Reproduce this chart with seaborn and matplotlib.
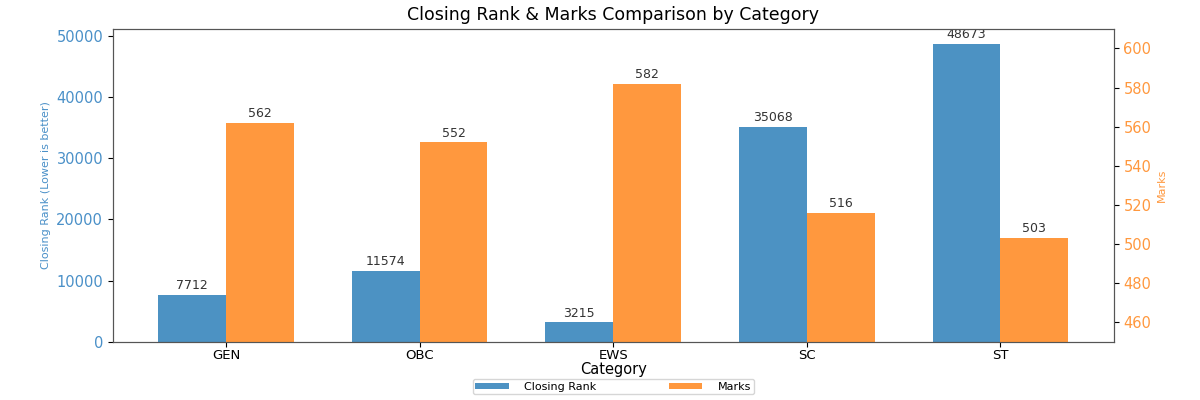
import pandas as pd
import matplotlib
matplotlib.use("Agg")
import matplotlib.pyplot as plt
import seaborn as sns

plt.rcParams['font.family'] = ['DejaVu Sans']

# ------------------- Data -------------------
categories = ["GEN", "OBC", "EWS", "SC", "ST"]
closing_rank = [7712, 11574, 3215, 35068, 48673]
marks = [562, 552, 582, 516, 503]

df_rank = pd.DataFrame({"Category": categories, "Value": closing_rank, "Metric": "Closing Rank"})
df_marks = pd.DataFrame({"Category": categories, "Value": marks, "Metric": "Marks"})

hue_order = ["Closing Rank", "Marks"]
palette = {"Closing Rank": "#1f77b4", "Marks": "#ff7f0e"}

# ------------------- Plot -------------------
fig, ax1 = plt.subplots(figsize=(12, 4), dpi=100)
ax2 = ax1.twinx()

sns.barplot(data=df_rank, x="Category", y="Value", hue="Metric", hue_order=hue_order,
            palette=palette, alpha=0.8, saturation=1, width=0.7, dodge=True, ax=ax1,
            order=categories)
sns.barplot(data=df_marks, x="Category", y="Value", hue="Metric", hue_order=hue_order,
            palette=palette, alpha=0.8, saturation=1, width=0.7, dodge=True, ax=ax2,
            order=categories)

for c in ax1.containers:
    ax1.bar_label(c, padding=2, fontsize=9, color="#333333")
for c in ax2.containers:
    ax2.bar_label(c, padding=2, fontsize=9, color="#333333")

ax1.set_xlim(-0.585, 4.585)
ax1.set_ylim(0, max(closing_rank) * 1.05)
ax2.set_ylim(450, 610)

ax1.set_xlabel("Category", fontsize=10.5, labelpad=0)
ax2.set_xlabel("")
ax1.set_ylabel("Closing Rank (Lower is better)", color="#4a90c8", fontsize=8)
ax2.set_ylabel("Marks", color="#ff983e", fontsize=8)
ax1.tick_params(axis="y", labelcolor="#4a90c8", labelsize=10.5)
ax2.tick_params(axis="y", labelcolor="#ff983e", labelsize=10.5)
ax1.tick_params(axis="x", labelsize=9.5, pad=1.5)
ax1.set_title("Closing Rank & Marks Comparison by Category", fontsize=12.5)

for ax in (ax1, ax2):
    for s in ax.spines.values():
        s.set_color("#555555")

h1, l1 = ax1.get_legend_handles_labels()
h2, l2 = ax2.get_legend_handles_labels()
ax1.get_legend().remove()
ax2.get_legend().remove()
ax1.legend([h1[0], h2[-1]], ["Closing Rank", "Marks"], loc="upper center",
           bbox_to_anchor=(0.5, -0.1), ncol=2, fontsize=8, handlelength=3,
           handleheight=0.5, handletextpad=1.4, columnspacing=6.5, borderpad=0.25)

plt.subplots_adjust(left=0.094, right=0.928, top=0.928, bottom=0.145)
plt.savefig("out.png")
plt.close()
